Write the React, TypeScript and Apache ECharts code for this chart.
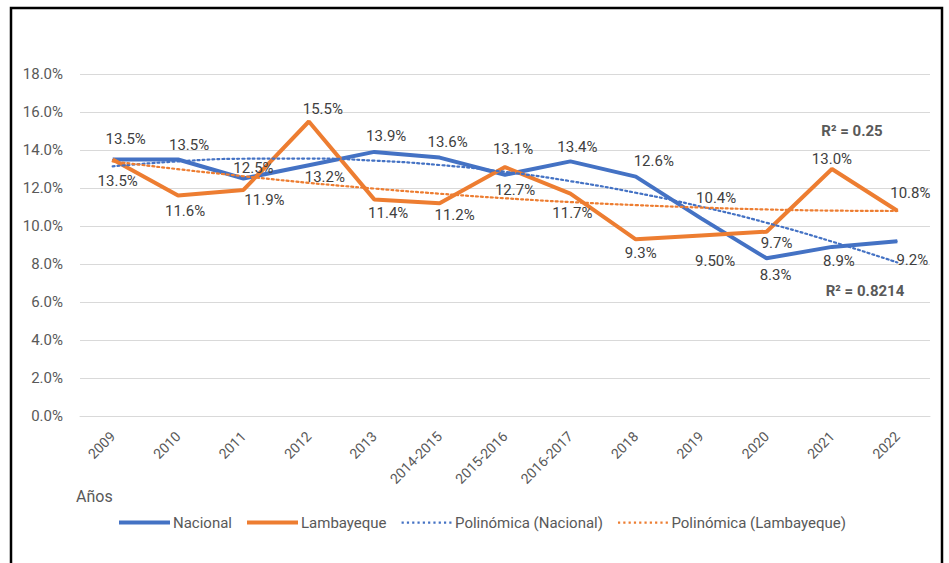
import React, { useEffect, useRef } from "react";
import * as echarts from "echarts";

const categories = ["2009", "2010", "2011", "2012", "2013", "2014-2015", "2015-2016", "2016-2017", "2018", "2019", "2020", "2021", "2022"];
const nacional = [13.5, 13.5, 12.5, 13.2, 13.9, 13.6, 12.7, 13.4, 12.6, 10.4, 8.3, 8.9, 9.2];
const lambayeque = [13.5, 11.6, 11.9, 15.5, 11.4, 11.2, 13.1, 11.7, 9.3, 9.5, 9.7, 13.0, 10.8];
const lambayequeDecimals = [1, 1, 1, 1, 1, 1, 1, 1, 1, 2, 1, 1, 1];
const trendNacional = [13.14, 13.4, 13.54, 13.55, 13.44, 13.21, 12.85, 12.36, 11.75, 11.02, 10.17, 9.18, 8.08];
const trendLambayeque = [13.4, 12.99, 12.62, 12.27, 11.97, 11.7, 11.46, 11.26, 11.1, 10.97, 10.87, 10.81, 10.79];
const yTicks = { min: 0, max: 18, interval: 2 };
const r2Nacional = "R² = 0.8214";
const r2Lambayeque = "R² = 0.25";

// label offsets (px) relative to each point
const nacionalLabelOffset = [[13, -21], [11, -15], [10, -11], [16, 12], [12, -16], [8, -16], [10, 15], [7, -14], [18, -16], [15, -20], [9, 17], [7, 14], [15, 19]];
const lambayequeLabelOffset = [[5, 21], [7, 15], [21, 10], [14, -13], [14, 14], [15, 12], [8, -18], [2, 19], [5, 14], [14, 25], [10, 11], [0, -10], [13, -18]];

const FONT = "Roboto";
const BLUE = "#4472C4";
const ORANGE = "#ED7D31";
const TEXT = "#595959";
const LABEL = "#404040";

function dottedIcon() {
  let d = "path://M0,0L0,0M0,4L0,4";
  for (let i = 0; i < 10; i++) {
    const x = i * 5.3;
    d += `M${x.toFixed(2)},1h2.2v2.2h-2.2z`;
  }
  return d;
}

export default function App() {
  const ref = useRef<HTMLDivElement>(null);
  useEffect(() => {
    if (!ref.current) return;
    const chart = echarts.init(ref.current, null, { renderer: "svg" });
    const mkData = (vals: number[], offs: number[][]) =>
      vals.map((v, i) => ({
        value: v,
        label: { offset: offs[i] },
      }));
    const option: any = {
      animation: false,
      textStyle: { fontFamily: FONT },
      grid: { left: 80, right: 19, top: 74, bottom: 147, containLabel: false },
      xAxis: {
        type: "category",
        data: categories,
        boundaryGap: true,
        axisLine: { lineStyle: { color: "#D9D9D9", width: 1 } },
        axisTick: { show: false },
        axisLabel: { rotate: 45, fontSize: 14, color: TEXT, margin: 18, fontFamily: FONT },
      },
      yAxis: {
        type: "value",
        min: yTicks.min,
        max: yTicks.max,
        interval: yTicks.interval,
        axisLine: { show: false },
        axisTick: { show: false },
        splitLine: { lineStyle: { color: "#D9D9D9", width: 1 } },
        axisLabel: {
          fontSize: 15,
          color: TEXT,
          margin: 17,
          fontFamily: FONT,
          formatter: (v: number) => v.toFixed(1) + "%",
        },
      },
      legend: {
        left: 114,
        top: 510,
        itemWidth: 51,
        itemHeight: 4,
        itemGap: 15,
        textStyle: { fontSize: 15, color: TEXT, fontFamily: FONT, padding: [0, 0, 0, -2] },
        data: [
          { name: "Nacional", icon: "rect" },
          { name: "Lambayeque", icon: "rect" },
          { name: "Polinómica (Nacional)", icon: dottedIcon() },
          { name: "Polinómica (Lambayeque)", icon: dottedIcon() },
        ],
      },
      series: [
        {
          name: "Polinómica (Nacional)",
          type: "line",
          data: trendNacional,
          smooth: true,
          symbol: "none",
          color: BLUE,
          lineStyle: { color: BLUE, width: 2.2, type: [2, 3], cap: "round" },
          z: 3,
        },
        {
          name: "Polinómica (Lambayeque)",
          type: "line",
          data: trendLambayeque,
          smooth: true,
          symbol: "none",
          color: ORANGE,
          lineStyle: { color: ORANGE, width: 2.2, type: [2, 3], cap: "round" },
          z: 3,
        },
        {
          name: "Nacional",
          type: "line",
          data: mkData(nacional, nacionalLabelOffset),
          symbol: "circle",
          symbolSize: 1,
          showSymbol: true,
          color: BLUE,
          itemStyle: { color: BLUE },
          lineStyle: { color: BLUE, width: 4 },
          label: {
            show: true,
            position: "inside",
            fontSize: 15,
            color: LABEL,
            fontFamily: FONT,
            formatter: (p: any) => p.value.toFixed(1) + "%",
          },
          z: 2,
        },
        {
          name: "Lambayeque",
          type: "line",
          data: mkData(lambayeque, lambayequeLabelOffset),
          symbol: "circle",
          symbolSize: 1,
          showSymbol: true,
          color: ORANGE,
          itemStyle: { color: ORANGE },
          lineStyle: { color: ORANGE, width: 4 },
          label: {
            show: true,
            position: "inside",
            fontSize: 15,
            color: LABEL,
            fontFamily: FONT,
            formatter: (p: any) => p.value.toFixed(lambayequeDecimals[p.dataIndex]) + "%",
          },
          z: 2,
        },
      ],
      graphic: [
        {
          type: "rect",
          shape: { x: 11, y: 8, width: 931, height: 600 },
          style: { fill: "none", stroke: "#000", lineWidth: 2.5 },
          silent: true,
        },
        {
          type: "text",
          x: 852,
          y: 131,
          style: { text: r2Lambayeque, font: `bold 15px ${FONT}`, fill: TEXT, align: "center", verticalAlign: "middle" },
        },
        {
          type: "text",
          x: 865,
          y: 291,
          style: { text: r2Nacional, font: `bold 15px ${FONT}`, fill: TEXT, align: "center", verticalAlign: "middle" },
        },
        {
          type: "text",
          x: 76,
          y: 496,
          style: { text: "Años", font: `16px ${FONT}`, fill: TEXT, align: "left", verticalAlign: "middle" },
        },
      ],
    };
    chart.setOption(option);
    return () => chart.dispose();
  }, []);
  return (
    <div
      ref={ref}
      style={{ position: "absolute", left: 0, top: 0, width: 949, height: 563, background: "#fff" }}
    />
  );
}
